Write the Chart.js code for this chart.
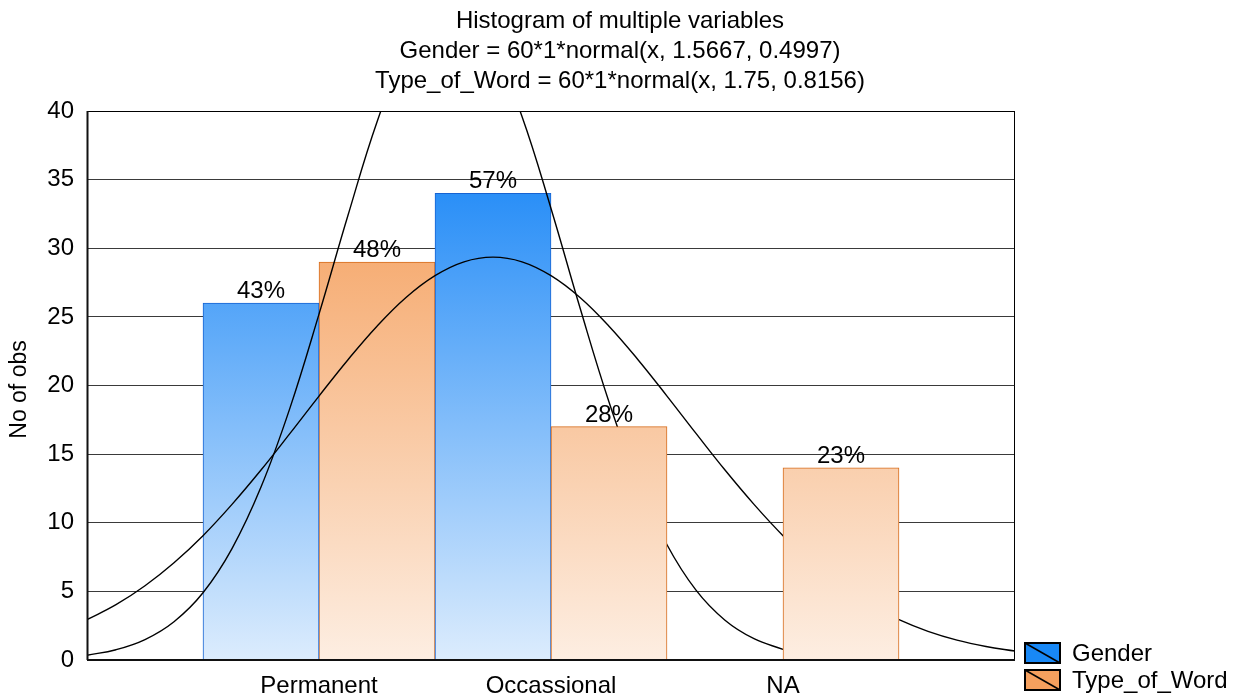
<!DOCTYPE html>
<html>
<head>
<meta charset="utf-8">
<script src="https://cdn.jsdelivr.net/npm/chart.js@4.4.1/dist/chart.umd.min.js"></script>
<style>
html,body{margin:0;padding:0;background:#fff;overflow:hidden}
#wrap{width:1235px;height:698px;position:relative}
</style>
</head>
<body>
<div id="wrap"><canvas id="c" width="1235" height="698"></canvas></div>
<script>
// ---- data ----
const titleLines = [
  'Histogram of multiple variables',
  'Gender = 60*1*normal(x, 1.5667, 0.4997)',
  'Type_of_Word = 60*1*normal(x, 1.75, 0.8156)'
];
const categories = ['Permanent', 'Occassional', 'NA'];
const genderCounts = [26, 34, null];
const typeCounts = [29, 17, 14];
const genderPct = ['43%', '57%', null];
const typePct = ['48%', '28%', '23%'];
const seriesNames = ['Gender', 'Type_of_Word'];
const yAxisTitle = 'No of obs';
const xMin = 0, xMax = 4;
const yMin = 0, yMax = 40, yStep = 5;
// fitted normal curves at x = 0, 0.125, 0.25, ...
const curveX = [0, 0.125, 0.25, 0.375, 0.5, 0.625, 0.75, 0.875, 1, 1.125, 1.25, 1.375, 1.5, 1.625, 1.75, 1.875,
                2, 2.125, 2.25, 2.375, 2.5, 2.625, 2.75, 2.875, 3, 3.125, 3.25, 3.375, 3.5, 3.625, 3.75, 3.875, 4];
const genderCurve = [0.35, 0.75, 1.49, 2.79, 4.9, 8.12, 12.6, 18.37, 25.2, 32.4, 39.2, 44.5, 47.5, 47.6, 44.8, 39.6,
                     32.9, 25.66, 18.8, 12.95, 8.4, 5.09, 2.9, 1.55, 0.78];
const typeCurve = [2.94, 4.03, 5.41, 7.09, 9.06, 11.34, 13.84, 16.51, 19.23, 21.88, 24.32, 26.41, 28.0, 29.01, 29.35, 29.01,
                   28.0, 26.41, 24.32, 21.88, 19.23, 16.51, 13.84, 11.34, 9.06, 7.09, 5.41, 4.03, 2.94, 2.09, 1.45, 0.985, 0.65];

// ---- styles ----
const FONT = '"Liberation Sans", Arial, sans-serif';
const blueLight = [220, 236, 253], blueDark = [42, 143, 247];
const orangeLight = [253, 238, 226], orangeDark = [245, 163, 99];
const rgb = a => `rgb(${a[0]},${a[1]},${a[2]})`;
const gradMax = Math.max(...genderCounts.filter(v => v != null), ...typeCounts.filter(v => v != null));

// category k sits at x = k + 1; the two series share each unit bin (half each)
const catPos = i => i + 1;
const HALF = 0.25;
const toBars = (vals, side, keep) =>
  vals.map((v, i) => (v == null || !keep(i) ? null : { x: catPos(i) + side * HALF, y: v, i }))
      .filter(p => p);

function makeGrad(chart, light, dark) {
  const { chartArea, scales } = chart;
  if (!chartArea) return rgb(dark);
  const y0 = scales.y.getPixelForValue(0);
  const y1 = scales.y.getPixelForValue(gradMax);
  const g = chart.ctx.createLinearGradient(0, y0, 0, y1);
  g.addColorStop(0, rgb(light));
  g.addColorStop(1, rgb(dark));
  return g;
}

const pctByDataset = [genderPct, typePct, typePct];

const overlay = {
  id: 'overlay',
  afterDatasetsDraw(chart) {
    const ctx = chart.ctx;
    const a = chart.chartArea;
    ctx.save();
    // plot frame
    ctx.strokeStyle = '#000';
    ctx.lineWidth = 1;
    ctx.beginPath();
    ctx.moveTo(a.left, a.top + 0.5); ctx.lineTo(a.right, a.top + 0.5);
    ctx.moveTo(a.right - 0.5, a.top); ctx.lineTo(a.right - 0.5, a.bottom);
    ctx.stroke();
    ctx.lineWidth = 2;
    ctx.strokeStyle = '#111';
    ctx.beginPath();
    ctx.moveTo(a.left, a.bottom); ctx.lineTo(a.right, a.bottom);
    ctx.moveTo(a.left + 0.5, a.top); ctx.lineTo(a.left + 0.5, a.bottom);
    ctx.stroke();
    // percentage labels
    ctx.fillStyle = '#000';
    ctx.font = `24px ${FONT}`;
    ctx.textAlign = 'center';
    ctx.textBaseline = 'alphabetic';
    [0, 1, 2].forEach(di => {
      const meta = chart.getDatasetMeta(di);
      const ds = chart.data.datasets[di].data;
      meta.data.forEach((el, j) => {
        const t = pctByDataset[di][ds[j].i];
        if (!t) return;
        ctx.fillText(t, el.x, el.y - 5);
      });
    });
    ctx.restore();
  },
  afterDraw(chart) {
    const ctx = chart.ctx;
    const a = chart.chartArea;
    ctx.save();
    ctx.fillStyle = '#000';
    ctx.font = `24px ${FONT}`;
    ctx.textAlign = 'center';
    ctx.textBaseline = 'alphabetic';
    titleLines.forEach((t, i) => ctx.fillText(t, 620, 28 + i * 30));
    // y axis title
    ctx.save();
    ctx.font = `23px ${FONT}`;
    ctx.translate(20, (a.top + a.bottom) / 2 + 4);
    ctx.rotate(-Math.PI / 2);
    ctx.textBaseline = 'middle';
    ctx.fillText(yAxisTitle, 0, 0);
    ctx.restore();
    // legend
    ctx.font = `24px ${FONT}`;
    const fills = ['rgb(24,136,246)', 'rgb(245,160,94)'];
    seriesNames.forEach((name, i) => {
      const x = 1025, y = 643 + i * 27, w = 35, h = 20;
      ctx.fillStyle = fills[i];
      ctx.fillRect(x, y, w, h);
      ctx.strokeStyle = '#000';
      ctx.lineWidth = 2;
      ctx.strokeRect(x, y, w, h);
      ctx.lineWidth = 1.5;
      ctx.beginPath();
      ctx.moveTo(x, y); ctx.lineTo(x + w, y + h);
      ctx.stroke();
      ctx.fillStyle = '#000';
      ctx.textAlign = 'left';
      ctx.textBaseline = 'middle';
      ctx.fillText(name, 1072, y + h / 2 + 1);
    });
    ctx.restore();
  }
};

const lineStyle = {
  type: 'line',
  borderColor: '#000',
  borderWidth: 1.4,
  pointRadius: 0,
  fill: false,
  tension: 0.4,
  order: 1
};
const barStyle = {
  type: 'bar',
  grouped: false,
  borderWidth: 1,
  barPercentage: 1,
  categoryPercentage: 1
};

new Chart(document.getElementById('c'), {
  type: 'bar',
  data: {
    datasets: [
      Object.assign({
        label: seriesNames[0],
        data: toBars(genderCounts, -1, () => true),
        backgroundColor: c => makeGrad(c.chart, blueLight, blueDark),
        borderColor: '#1663d2',
        order: 3
      }, barStyle),
      Object.assign({
        label: seriesNames[1],
        data: toBars(typeCounts, 1, i => i === 0),
        backgroundColor: c => makeGrad(c.chart, orangeLight, orangeDark),
        borderColor: '#d66c1c',
        order: 3
      }, barStyle),
      Object.assign({
        label: seriesNames[1] + ' (front)',
        data: toBars(typeCounts, 1, i => i > 0),
        backgroundColor: c => makeGrad(c.chart, orangeLight, orangeDark),
        borderColor: '#d66c1c',
        order: 0
      }, barStyle),
      Object.assign({ label: 'Gender curve', data: genderCurve.map((y, i) => ({ x: curveX[i], y })) }, lineStyle),
      Object.assign({ label: 'Type curve', data: typeCurve.map((y, i) => ({ x: curveX[i], y })) }, lineStyle)
    ]
  },
  options: {
    responsive: false,
    animation: false,
    devicePixelRatio: 1,
    layout: { padding: { top: 111, right: 220, bottom: 0, left: 0 } },
    plugins: { legend: { display: false }, title: { display: false }, tooltip: { enabled: false } },
    scales: {
      x: {
        type: 'linear', position: 'bottom', min: xMin, max: xMax,
        offset: false, bounds: 'data',
        grid: { display: false, drawTicks: false, offset: false },
        border: { display: false },
        afterBuildTicks: s => { s.ticks = categories.map((c, i) => ({ value: catPos(i) })); },
        ticks: { callback: v => categories[v - 1], color: '#000', padding: 12, maxRotation: 0, autoSkip: false, font: { family: FONT, size: 24 } },
        afterFit: s => { s.height = 38; }
      },
      y: {
        type: 'linear', min: yMin, max: yMax,
        grid: { color: '#3a3a3a', lineWidth: 1, drawTicks: false },
        border: { display: false },
        ticks: { stepSize: yStep, color: '#000', padding: 13, font: { family: FONT, size: 24 } },
        afterFit: s => { s.width = 87; }
      }
    }
  },
  plugins: [overlay]
});
</script>
</body>
</html>
